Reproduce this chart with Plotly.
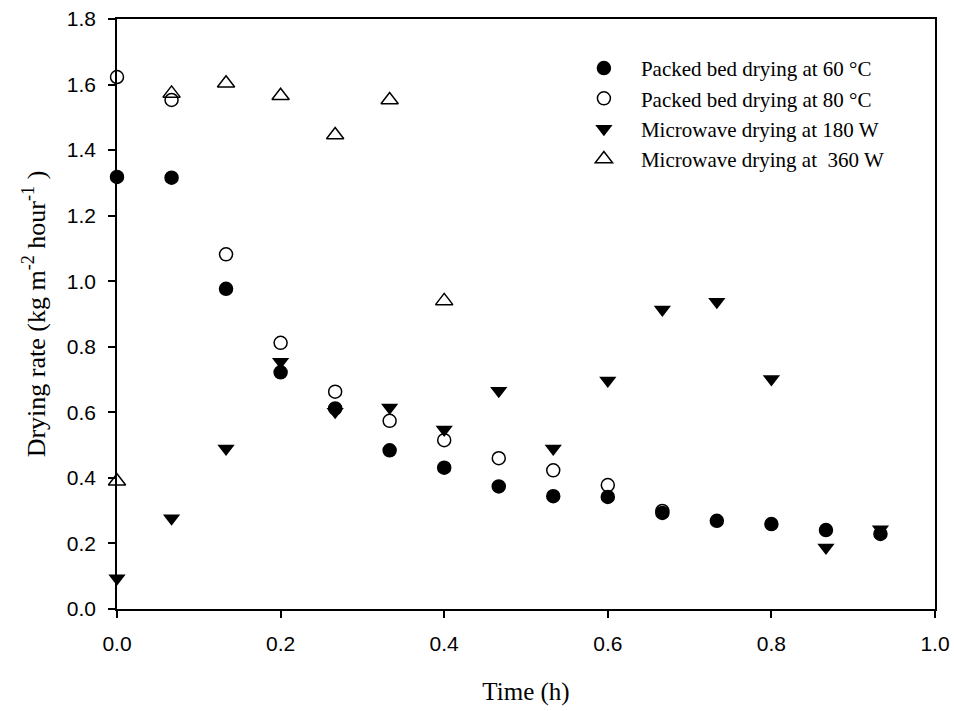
import plotly.graph_objects as go

time_h = [0.0, 0.0667, 0.1333, 0.2, 0.2667, 0.3333, 0.4, 0.4667, 0.5333, 0.6, 0.6667, 0.7333, 0.8, 0.8667, 0.9333]

packed_60 = [1.318, 1.316, 0.977, 0.722, 0.612, 0.484, 0.431, 0.374, 0.344, 0.342, 0.293, 0.269, 0.259, 0.241, 0.229]
packed_80 = [1.623, 1.553, 1.082, 0.812, 0.663, 0.574, 0.515, 0.460, 0.423, 0.378, 0.299]
micro_180 = [0.094, 0.277, 0.490, 0.754, 0.602, 0.615, 0.548, 0.666, 0.490, 0.697, 0.914, 0.937, 0.702, 0.188, 0.243]
micro_360 = [0.390, 1.573, 1.604, 1.566, 1.446, 1.553, 0.940]

series_names = ["Packed bed drying at 60 °C", "Packed bed drying at 80 °C",
                "Microwave drying at 180 W", "Microwave drying at  360 W"]

x_ticks = [0.0, 0.2, 0.4, 0.6, 0.8, 1.0]
y_ticks = [0.0, 0.2, 0.4, 0.6, 0.8, 1.0, 1.2, 1.4, 1.6, 1.8]

SERIF = "Liberation Serif, Times New Roman, serif"
SANS = "Liberation Sans, Arial, sans-serif"

fig = go.Figure()
fig.add_trace(go.Scatter(x=time_h[:len(packed_60)], y=packed_60, mode="markers", name=series_names[0],
                         legendgroup="a", cliponaxis=False,
                         marker=dict(symbol="circle", size=13, color="black", line=dict(color="black", width=1.5))))
fig.add_trace(go.Scatter(x=time_h[:len(packed_80)], y=packed_80, mode="markers", name=series_names[1],
                         legendgroup="b", cliponaxis=False,
                         marker=dict(symbol="circle-open", size=13, color="black", line=dict(color="black", width=1.5))))
fig.add_trace(go.Scatter(x=time_h[:len(micro_180)], y=micro_180, mode="markers", name=series_names[2],
                         legendgroup="c", cliponaxis=False,
                         marker=dict(symbol="triangle-down", size=15, color="black", line=dict(color="black", width=0))))
fig.add_trace(go.Scatter(x=time_h[:len(micro_360)], y=micro_360, mode="markers", name=series_names[3],
                         legendgroup="d", cliponaxis=False,
                         marker=dict(symbol="triangle-up-open", size=15, color="black", line=dict(color="black", width=1.5))))

fig.update_layout(
    width=954, height=711,
    margin=dict(l=117, r=19, t=19, b=102),
    paper_bgcolor="white", plot_bgcolor="white",
    showlegend=True,
    legend=dict(x=0.550, y=0.951, xanchor="left", yanchor="top",
                font=dict(family=SERIF, size=21, color="black"),
                bgcolor="rgba(0,0,0,0)", traceorder="grouped", tracegroupgap=0,
                itemwidth=64),
    xaxis=dict(range=[0, 1.0], tickvals=x_ticks, ticktext=[f"{v:.1f}" for v in x_ticks],
               automargin=False,
               showgrid=False, zeroline=False, showline=True, linecolor="black", linewidth=1.5,
               mirror=True, ticks="outside", ticklen=7, tickwidth=1.5, tickcolor="black",
               ticklabelstandoff=8,
               tickfont=dict(family=SANS, size=21, color="black"),
               title=dict(text="Time (h)", standoff=29,
                          font=dict(family=SERIF, size=25, color="black"))),
    yaxis=dict(range=[0, 1.8], tickvals=y_ticks, ticktext=[f"{v:.1f}" for v in y_ticks],
               automargin=False,
               showgrid=False, zeroline=False, showline=True, linecolor="black", linewidth=1.5,
               mirror=True, ticks="outside", ticklen=7, tickwidth=1.5, tickcolor="black",
               ticklabelstandoff=8,
               tickfont=dict(family=SANS, size=21, color="black"),
               title=dict(text="Drying rate (kg m<sup>-2</sup> hour<sup>-1</sup> )", standoff=14,
                          font=dict(family=SERIF, size=26, color="black"))),
)

fig.write_html("out.html")
